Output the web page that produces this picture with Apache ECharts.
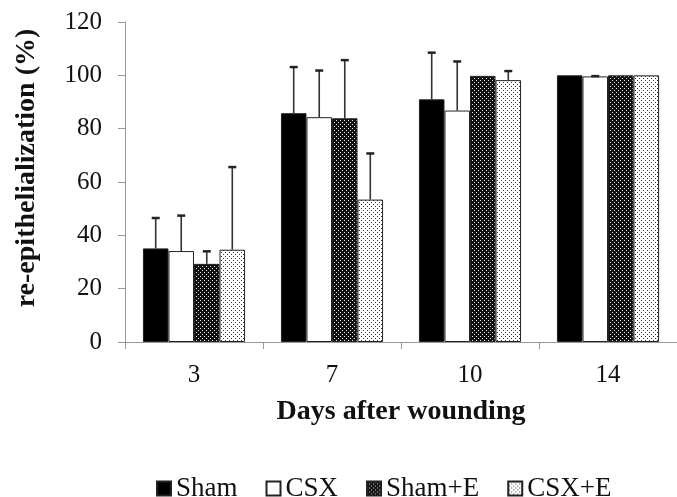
<!DOCTYPE html>
<html>
<head>
<meta charset="utf-8">
<script src="https://cdn.jsdelivr.net/npm/echarts@6/dist/echarts.min.js"></script>
<style>
  html, body { margin: 0; padding: 0; background: #fff; }
  #chart { width: 677px; height: 497px; }
</style>
</head>
<body>
<div id="chart"></div>
<script>
// data
var days = ['3', '7', '10', '14'];
var seriesNames = ['Sham', 'CSX', 'Sham+E', 'CSX+E'];
var shamMean = [35.1, 85.8, 91.0, 100];
var csxMean = [34.1, 84.3, 86.8, 99.6];
var shamEMean = [29.3, 83.9, 99.8, 100];
var csxEMean = [34.6, 53.4, 98.2, 100];
var shamSD = [11.4, 17.3, 17.5, 0];
var csxSD = [13.3, 17.5, 18.4, 0.1];
var shamESD = [4.7, 21.8, 0, 0];
var csxESD = [31.0, 17.3, 3.4, 0];

var yTicks = { min: 0, max: 120, interval: 20 };

var FONT = '"Liberation Serif", "Times New Roman", serif';
var CAT_GAP = 0.26;

// fill patterns
function makePattern(bg, dot, pts) {
  var c = document.createElement('canvas');
  c.width = 4; c.height = 4;
  var ctx = c.getContext('2d');
  ctx.fillStyle = bg;
  ctx.fillRect(0, 0, 4, 4);
  ctx.fillStyle = dot;
  pts.forEach(function (p) { ctx.fillRect(p[0], p[1], 1, 1); });
  return { image: c, repeat: 'repeat' };
}
var fills = [
  '#000000',
  '#ffffff',
  makePattern('#111111', '#e8e8e8', [[0, 0], [2, 2]]),
  makePattern('#ffffff', '#333333', [[1, 0], [3, 2]])
];

var means = [shamMean, csxMean, shamEMean, csxEMean];
var sds = [shamSD, csxSD, shamESD, csxESD];

var barSeries = seriesNames.map(function (name, i) {
  return {
    name: name,
    type: 'bar',
    data: means[i],
    barGap: '0%',
    barCategoryGap: (CAT_GAP * 100) + '%',
    itemStyle: { color: fills[i], borderColor: '#222', borderWidth: 1 },
    emphasis: { disabled: true },
    z: 2
  };
});

// error bar data: [category, top, mean, series index]
var errData = [];
for (var s = 0; s < 4; s++) {
  for (var c = 0; c < days.length; c++) {
    if (sds[s][c] > 0) errData.push([c, means[s][c] + sds[s][c], means[s][c], s]);
  }
}

var errSeries = {
  type: 'custom',
  name: 'err',
  data: errData,
  z: 5,
  renderItem: function (params, api) {
    var cat = api.value(0);
    var band = api.size([1, 0])[0];
    var bw = band * (1 - CAT_GAP) / 4;
    var x = api.coord([cat, 0])[0] + (api.value(3) - 1.5) * bw;
    var yTop = api.coord([cat, api.value(1)])[1];
    var yBase = api.coord([cat, api.value(2)])[1];
    var half = 4;
    return {
      type: 'group',
      children: [
        { type: 'line', shape: { x1: x, y1: yBase, x2: x, y2: yTop },
          style: { stroke: '#333', lineWidth: 1.6 } },
        { type: 'line', shape: { x1: x - half, y1: yTop, x2: x + half, y2: yTop },
          style: { stroke: '#222', lineWidth: 2.5 } }
      ]
    };
  }
};

var chart = echarts.init(document.getElementById('chart'), null, { renderer: 'canvas' });
chart.setOption({
  animation: false,
  backgroundColor: '#fff',
  textStyle: { fontFamily: FONT },
  grid: { left: 125, right: 0, top: 22, bottom: 155 },
  legend: {
    data: seriesNames.map(function (n) { return { name: n, icon: 'rect' }; }),
    left: 151,
    top: 470,
    itemWidth: 14,
    itemHeight: 14,
    itemGap: 28,
    textStyle: { fontFamily: FONT, fontSize: 27, color: '#111' }
  },
  xAxis: {
    type: 'category',
    data: days,
    axisLine: { lineStyle: { color: '#999', width: 1 } },
    axisTick: { show: true, length: 7, lineStyle: { color: '#999' } },
    axisLabel: { fontFamily: FONT, fontSize: 25, color: '#111', margin: 21 }
  },
  yAxis: {
    type: 'value',
    min: yTicks.min,
    max: yTicks.max,
    interval: yTicks.interval,
    splitLine: { show: false },
    axisLine: { show: true, lineStyle: { color: '#999', width: 1 } },
    axisTick: { show: true, length: 7, lineStyle: { color: '#999' } },
    axisLabel: { fontFamily: FONT, fontSize: 25, color: '#111', margin: 23 }
  },
  graphic: [
    {
      type: 'text',
      x: 27, y: 168,
      rotation: Math.PI / 2,
      style: {
        text: 're-epithelialization (%)',
        font: 'bold 28px ' + FONT,
        fill: '#111',
        align: 'center',
        verticalAlign: 'middle'
      }
    },
    {
      type: 'text',
      x: 401, y: 412,
      style: {
        text: 'Days after wounding',
        font: 'bold 28px ' + FONT,
        fill: '#111',
        align: 'center',
        verticalAlign: 'middle'
      }
    }
  ],
  series: barSeries.concat([errSeries])
});
</script>
</body>
</html>
